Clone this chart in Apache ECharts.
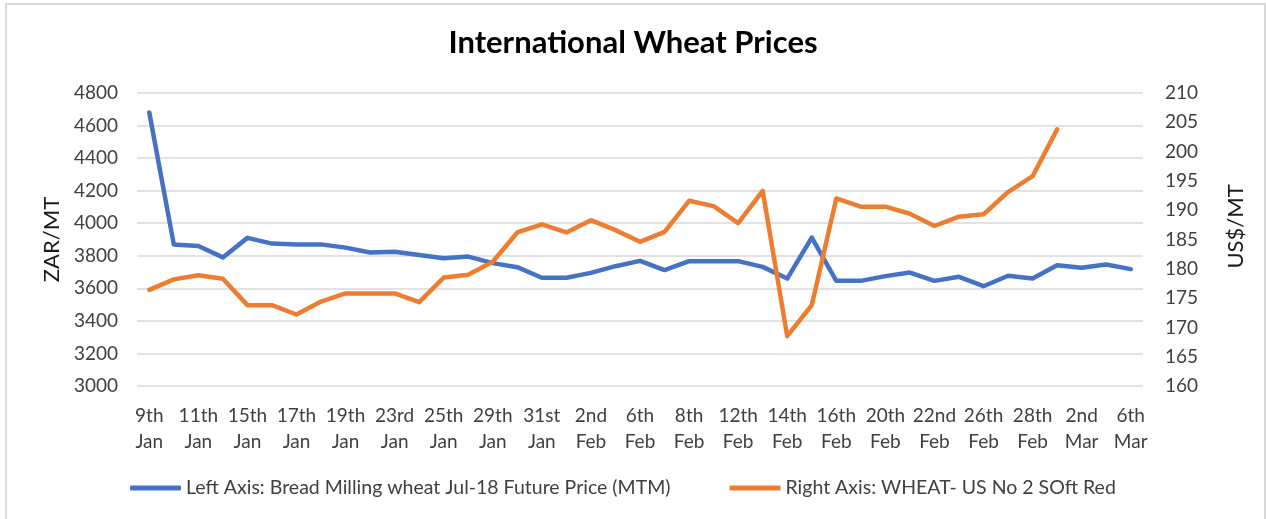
<!DOCTYPE html>
<html>
<head>
<meta charset="utf-8">
<script src="https://cdn.jsdelivr.net/npm/echarts@6/dist/echarts.min.js"></script>
<style>
  html, body { margin: 0; padding: 0; background: #fff; }
  #wrap { position: relative; width: 1266px; height: 519px; overflow: hidden; }
  #chart { position: absolute; left: 0; top: 0; width: 1266px; height: 519px; }
  #frame { position: absolute; left: 5px; top: 3px; width: 1257px; height: 540px; border: 2px solid #d9d9d9; pointer-events: none; }
</style>
</head>
<body>
<div id="wrap">
  <div id="chart"></div>
  <div id="frame"></div>
</div>
<script>
const categories = [
  "9th\nJan","10th\nJan","11th\nJan","12th\nJan","15th\nJan","16th\nJan","17th\nJan","18th\nJan","19th\nJan",
  "22nd\nJan","23rd\nJan","24th\nJan","25th\nJan","26th\nJan","29th\nJan","30th\nJan","31st\nJan",
  "1st\nFeb","2nd\nFeb","5th\nFeb","6th\nFeb","7th\nFeb","8th\nFeb","9th\nFeb","12th\nFeb","13th\nFeb",
  "14th\nFeb","15th\nFeb","16th\nFeb","19th\nFeb","20th\nFeb","21st\nFeb","22nd\nFeb","23rd\nFeb",
  "26th\nFeb","27th\nFeb","28th\nFeb","1st\nMar","2nd\nMar","5th\nMar","6th\nMar"
];
const breadMillingZAR = [
  4680,3870,3860,3790,3910,3875,3870,3870,3850,3820,3825,3805,3785,3795,3755,3730,3665,
  3665,3695,3736,3769,3712,3767,3767,3767,3732,3660,3912,3646,3646,3675,3697,3646,3671,
  3613,3677,3660,3742,3726,3746,3718
];
const softRedUSD = [
  176.4,178.2,178.9,178.3,173.8,173.8,172.2,174.4,175.8,175.8,175.8,174.3,178.5,179.0,181.2,186.2,187.6,
  186.2,188.3,186.6,184.6,186.3,191.6,190.7,187.8,193.3,168.5,173.8,192.0,190.6,190.6,189.4,187.3,188.9,
  189.3,193.1,195.8,203.8,null,null,null
];
const seriesNames = [
  "Left Axis: Bread Milling wheat Jul-18 Future Price (MTM)",
  "Right Axis: WHEAT- US No 2 SOft Red"
];

const FONT = 'Lato';
const LABEL = '#404040';
const chart = echarts.init(document.getElementById('chart'), null, { renderer: 'canvas' });
chart.setOption({
  animation: false,
  backgroundColor: '#ffffff',
  title: {
    text: 'International Wheat Prices',
    left: 'center',
    top: 27,
    padding: 0,
    textStyle: { fontFamily: FONT, fontSize: 31, fontWeight: 'bold', color: '#000000' }
  },
  legend: {
    left: 130,
    top: 478,
    padding: 0,
    itemGap: 59,
    itemWidth: 51,
    itemHeight: 5,
    icon: 'roundRect',
    textStyle: { fontFamily: FONT, fontSize: 19.5, color: LABEL },
    data: seriesNames
  },
  grid: { left: 137, right: 123, top: 93, bottom: 133 },
  xAxis: {
    type: 'category',
    data: categories,
    boundaryGap: true,
    axisLine: { show: false },
    axisTick: { show: false },
    axisLabel: {
      interval: 1,
      margin: 17,
      fontFamily: FONT,
      fontSize: 19,
      lineHeight: 26,
      color: LABEL
    }
  },
  yAxis: [
    {
      type: 'value',
      min: 3000, max: 4800, interval: 200,
      name: 'ZAR/MT',
      nameLocation: 'middle',
      nameRotate: 90,
      nameGap: 74,
      nameTextStyle: { fontFamily: FONT, fontSize: 22, color: '#1a1a1a' },
      axisLine: { show: false },
      axisTick: { show: false },
      axisLabel: { margin: 19, fontFamily: FONT, fontSize: 19, color: LABEL, formatter: function (v) { return String(v); } },
      splitLine: { show: true, lineStyle: { color: '#d9d9d9', width: 1.5 } }
    },
    {
      type: 'value',
      min: 160, max: 210, interval: 5,
      name: 'US$/MT',
      nameLocation: 'middle',
      nameRotate: 90,
      nameGap: 82,
      nameTextStyle: { fontFamily: FONT, fontSize: 22, color: '#1a1a1a', padding: [0, 0, 0, 26] },
      axisLine: { show: false },
      axisTick: { show: false },
      axisLabel: { margin: 22, fontFamily: FONT, fontSize: 19, color: LABEL, formatter: function (v) { return String(v); } },
      splitLine: { show: false }
    }
  ],
  series: [
    {
      name: seriesNames[0],
      type: 'line',
      yAxisIndex: 0,
      data: breadMillingZAR,
      symbol: 'none',
      color: '#4472C4',
      lineStyle: { width: 4.5, color: '#4472C4', cap: 'round', join: 'round' }
    },
    {
      name: seriesNames[1],
      type: 'line',
      yAxisIndex: 1,
      data: softRedUSD,
      symbol: 'none',
      color: '#ED7D31',
      lineStyle: { width: 4.5, color: '#ED7D31', cap: 'round', join: 'round' }
    }
  ]
});
</script>
</body>
</html>
